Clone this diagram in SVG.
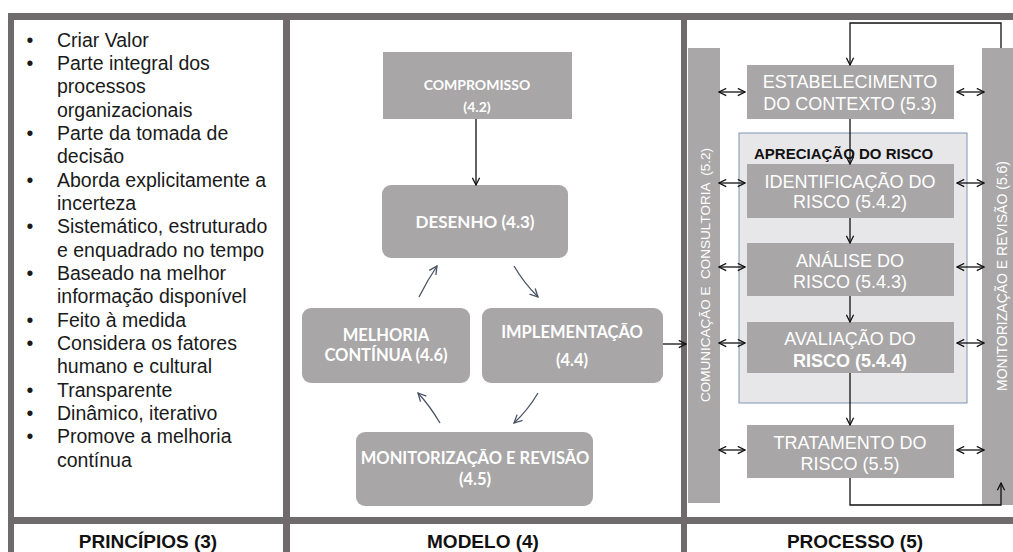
<svg xmlns="http://www.w3.org/2000/svg" width="1013" height="552" viewBox="0 0 1013 552">
<style>
.frame{fill:#6f6b6c}
.box{fill:#a8a6a7}
.bar{fill:#a9a7a8}
.list{font-family:"Liberation Sans",Arial,sans-serif;font-size:19.5px;fill:#1a1a1a}
.bul{text-anchor:middle}
.lab{font-family:"Liberation Sans",Arial,sans-serif;font-size:19px;font-weight:bold;fill:#111;text-anchor:middle}
.mt{font-family:Lato,"Open Sans",sans-serif;font-weight:bold;fill:#fff;text-anchor:middle}
.pt{font-family:"Liberation Sans",Arial,sans-serif;font-size:18px;fill:#fff;text-anchor:middle}
.vt{font-family:"Liberation Sans",Arial,sans-serif;font-size:13.5px;fill:#fff;text-anchor:middle;white-space:pre}
.con{stroke:#111;stroke-width:1.3;fill:none}
.cyc{stroke:#4a5364;stroke-width:1.3;fill:none}
</style>
<defs>
<marker id="ah" viewBox="0 0 10 10" refX="9" refY="5" markerWidth="9" markerHeight="9" markerUnits="userSpaceOnUse" orient="auto-start-reverse">
<path d="M1,1 L9,5 L1,9" fill="none" stroke="#111" stroke-width="1.4"/>
</marker>
<marker id="ahc" viewBox="0 0 10 10" refX="9" refY="5" markerWidth="10" markerHeight="10" markerUnits="userSpaceOnUse" orient="auto">
<path d="M1,1 L9,5 L1,9" fill="none" stroke="#4a5364" stroke-width="1.3"/>
</marker>
</defs>
<rect width="1013" height="552" fill="#fff"/>
<g id="frame">
<rect class="frame" x="8" y="13" width="1005" height="7"/>
<rect class="frame" x="8" y="517" width="1005" height="7"/>
<rect class="frame" x="8" y="13" width="6" height="539"/>
<rect class="frame" x="283" y="13" width="7" height="539"/>
<rect class="frame" x="681" y="13" width="6" height="539"/>
</g>
<g id="principios">
<g class="list">
<text class="bul" x="30" y="46.7">•</text><text x="57" y="46.7">Criar Valor</text>
<text class="bul" x="30" y="70">•</text><text x="57" y="70">Parte integral dos</text>
<text x="57" y="93.4">processos</text>
<text x="57" y="116.7">organizacionais</text>
<text class="bul" x="30" y="140">•</text><text x="57" y="140">Parte da tomada de</text>
<text x="57" y="163.4">decisão</text>
<text class="bul" x="30" y="186.7">•</text><text x="57" y="186.7">Aborda explicitamente a</text>
<text x="57" y="210">incerteza</text>
<text class="bul" x="30" y="233.3">•</text><text x="57" y="233.3">Sistemático, estruturado</text>
<text x="57" y="256.7">e enquadrado no tempo</text>
<text class="bul" x="30" y="280">•</text><text x="57" y="280">Baseado na melhor</text>
<text x="57" y="303.3">informação disponível</text>
<text class="bul" x="30" y="326.7">•</text><text x="57" y="326.7">Feito à medida</text>
<text class="bul" x="30" y="350">•</text><text x="57" y="350">Considera os fatores</text>
<text x="57" y="373.3">humano e cultural</text>
<text class="bul" x="30" y="396.7">•</text><text x="57" y="396.7">Transparente</text>
<text class="bul" x="30" y="420">•</text><text x="57" y="420">Dinâmico, iterativo</text>
<text class="bul" x="30" y="443.3">•</text><text x="57" y="443.3">Promove a melhoria</text>
<text x="57" y="466.7">contínua</text>
</g>
<text class="lab" x="148" y="548">PRINCÍPIOS (3)</text>
</g>
<g id="modelo-label"><text class="lab" x="483" y="548">MODELO (4)</text></g>
<g id="processo-label"><text class="lab" x="855" y="548">PROCESSO (5)</text></g>
<g id="compromisso">
<rect class="box" x="383" y="52" width="189" height="67"/>
<text class="mt" x="477" y="90" font-size="14">COMPROMISSO</text>
<text class="mt" x="477" y="111.5" font-size="14">(4.2)</text>
</g>
<g id="desenho">
<rect class="box" x="382" y="185" width="186" height="73" rx="9"/>
<text class="mt" x="475" y="228" font-size="17">DESENHO (4.3)</text>
</g>
<g id="melhoria">
<rect class="box" x="302" y="308" width="168" height="75" rx="9"/>
<text class="mt" x="386" y="341" font-size="16.5">MELHORIA</text>
<text class="mt" x="386" y="361" font-size="16.5">CONTÍNUA (4.6)</text>
</g>
<g id="implementacao">
<rect class="box" x="482" y="308" width="181" height="75" rx="9"/>
<text class="mt" x="572" y="338" font-size="16.5">IMPLEMENTAÇÃO</text>
<text class="mt" x="572" y="366" font-size="16.5">(4.4)</text>
</g>
<g id="monitorizacao-modelo">
<rect class="box" x="356" y="432" width="237" height="74" rx="9"/>
<text class="mt" x="475" y="464" font-size="16.5">MONITORIZAÇÃO E REVISÃO</text>
<text class="mt" x="475" y="485" font-size="16.5">(4.5)</text>
</g>
<g id="comunicacao">
<rect class="bar" x="688" y="48" width="32" height="455"/>
<text class="vt" transform="translate(709.5,275) rotate(-90)">COMUNICAÇÃO E  CONSULTORIA  (5.2)</text>
</g>
<g id="monitorizacao-processo">
<rect class="bar" x="982" y="48" width="31" height="457"/>
<text class="vt" style="font-size:14px" transform="translate(1006.5,276) rotate(-90)">MONITORIZAÇÃO E REVISÃO (5.6)</text>
</g>
<g id="apreciacao">
<rect x="739" y="133" width="228" height="270" fill="#e7e7ea" stroke="#7f95b6" stroke-width="1"/>
<text x="754" y="158.5" font-family="Liberation Sans,Arial,sans-serif" font-size="15" font-weight="bold" fill="#111">APRECIAÇÃO DO RISCO</text>
</g>
<g id="estabelecimento">
<rect class="box" x="747" y="65" width="207" height="54"/>
<text class="pt" x="850" y="88.2">ESTABELECIMENTO</text>
<text class="pt" x="850" y="109.5">DO CONTEXTO (5.3)</text>
</g>
<g id="identificacao">
<rect class="box" x="747" y="164" width="207" height="54"/>
<text class="pt" x="850" y="188.2">IDENTIFICAÇÃO DO</text>
<text class="pt" x="850" y="208.2">RISCO (5.4.2)</text>
</g>
<g id="analise">
<rect class="box" x="747" y="243" width="207" height="53"/>
<text class="pt" x="850" y="266.5">ANÁLISE DO</text>
<text class="pt" x="850" y="287.5">RISCO (5.4.3)</text>
</g>
<g id="avaliacao">
<rect class="box" x="747" y="322" width="207" height="51"/>
<text class="pt" x="850" y="344.5">AVALIAÇÃO DO</text>
<text class="pt" x="850" y="366.5" font-weight="bold">RISCO (5.4.4)</text>
</g>
<g id="tratamento">
<rect class="box" x="747" y="425" width="207" height="53"/>
<text class="pt" x="850" y="448.5">TRATAMENTO DO</text>
<text class="pt" x="850" y="469.5">RISCO (5.5)</text>
</g>
<g id="connectors">
<line class="con" x1="476" y1="119" x2="476" y2="185" marker-end="url(#ah)"/>
<path class="cyc" d="M419,297 Q427,281 437,266" marker-end="url(#ahc)"/>
<path class="cyc" d="M514,266 Q524,283 538,297" marker-end="url(#ahc)"/>
<path class="cyc" d="M538,393 Q528,410 514,423" marker-end="url(#ahc)"/>
<path class="cyc" d="M440,423 Q430,406 418,393" marker-end="url(#ahc)"/>
<line class="con" x1="663" y1="344" x2="686" y2="344" marker-end="url(#ah)"/>
<path class="con" d="M1001,48 V23 H850 V65" marker-end="url(#ah)"/>
<path class="con" d="M850,478 V505 H1001 V483" marker-end="url(#ah)"/>
<line class="con" x1="850" y1="119" x2="850" y2="164" marker-end="url(#ah)"/>
<line class="con" x1="850" y1="218" x2="850" y2="243" marker-end="url(#ah)"/>
<line class="con" x1="850" y1="296" x2="850" y2="322" marker-end="url(#ah)"/>
<line class="con" x1="850" y1="373" x2="850" y2="425" marker-end="url(#ah)"/>
<line class="con" x1="719" y1="92" x2="745" y2="92" marker-start="url(#ah)" marker-end="url(#ah)"/>
<line class="con" x1="719" y1="183" x2="745" y2="183" marker-start="url(#ah)" marker-end="url(#ah)"/>
<line class="con" x1="719" y1="267" x2="745" y2="267" marker-start="url(#ah)" marker-end="url(#ah)"/>
<line class="con" x1="719" y1="343" x2="745" y2="343" marker-start="url(#ah)" marker-end="url(#ah)"/>
<line class="con" x1="719" y1="450" x2="745" y2="450" marker-start="url(#ah)" marker-end="url(#ah)"/>
<line class="con" x1="957" y1="92" x2="984" y2="92" marker-start="url(#ah)" marker-end="url(#ah)"/>
<line class="con" x1="957" y1="183" x2="984" y2="183" marker-start="url(#ah)" marker-end="url(#ah)"/>
<line class="con" x1="957" y1="267" x2="984" y2="267" marker-start="url(#ah)" marker-end="url(#ah)"/>
<line class="con" x1="957" y1="343" x2="984" y2="343" marker-start="url(#ah)" marker-end="url(#ah)"/>
<line class="con" x1="957" y1="450" x2="984" y2="450" marker-start="url(#ah)" marker-end="url(#ah)"/>
</g>
</svg>
